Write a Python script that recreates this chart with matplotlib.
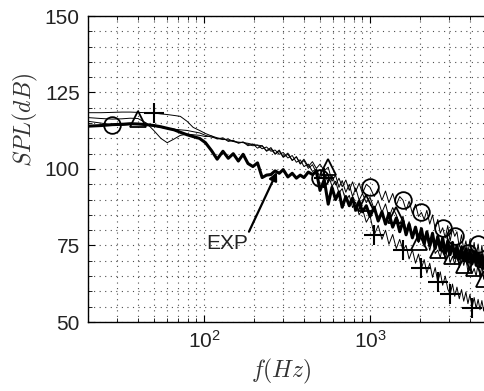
import matplotlib
matplotlib.use("Agg")
import matplotlib.pyplot as plt
from matplotlib.ticker import MultipleLocator, LogLocator, NullFormatter

plt.rcParams['font.family'] = ['Liberation Sans', 'DejaVu Sans']
plt.rcParams['mathtext.fontset'] = 'cm'

# frequency (Hz)
freq = [20, 24, 28, 32, 36, 40, 45, 50, 55, 60,
        66, 72, 79, 86, 94, 102, 111, 120, 130, 140,
        150, 161, 172, 184, 197, 210, 224, 238, 253, 268,
        284, 300, 320, 340, 360, 380, 400, 425, 450, 475,
        500, 530, 560, 590, 620, 650, 680, 715, 750, 785,
        820, 860, 900, 950, 1000, 1060, 1120, 1180, 1240, 1300,
        1370, 1440, 1510, 1580, 1650, 1720, 1800, 1880, 1960, 2040,
        2120, 2200, 2290, 2380, 2470, 2560, 2650, 2740, 2840, 2940,
        3040, 3140, 3240, 3340, 3450, 3560, 3670, 3780, 3890, 4000,
        4120, 4240, 4360, 4480, 4600, 4720, 4840, 4960, 5080]

# measured spectrum (thick line)
spl_exp = [114.0, 114.2, 114.5, 114.6, 114.8, 114.7, 114.5, 114.2, 113.8, 113.3,
           112.8, 112.0, 111.2, 110.6, 110.0, 108.6, 106.0, 103.2, 105.8, 103.5,
           105.0, 102.6, 104.8, 101.8, 100.8, 102.0, 97.2, 98.0, 98.2, 99.4,
           98.6, 99.8, 97.4, 98.6, 97.0, 98.0, 97.2, 99.0, 98.2, 99.2,
           93.0, 96.5, 88.5, 94.0, 90.0, 92.5, 87.5, 91.0, 88.0, 90.5,
           86.5, 89.5, 86.0, 88.0, 84.5, 87.5, 83.0, 86.0, 82.0, 85.5,
           81.0, 84.0, 79.5, 83.0, 78.5, 82.0, 77.5, 81.0, 76.5, 80.5,
           75.5, 79.5, 75.0, 79.0, 74.0, 78.0, 73.5, 77.5, 72.5, 76.5,
           72.0, 76.0, 71.0, 75.0, 70.5, 74.5, 70.0, 74.0, 69.5, 73.5,
           69.0, 73.0, 68.5, 72.5, 68.0, 72.0, 67.5, 71.5, 67.0]

# computed spectra (thin lines with markers)
spl_circle = [115.6, 115.0, 114.4, 114.3, 114.5, 114.6, 114.4, 114.0, 113.6, 113.2,
              113.0, 112.8, 112.6, 112.2, 111.8, 111.0, 110.4, 110.0, 109.6, 109.8,
              109.0, 108.6, 108.8, 108.0, 107.6, 107.8, 106.6, 107.2, 105.8, 106.2,
              104.8, 105.4, 103.6, 104.4, 102.2, 103.0, 100.8, 101.6, 99.2, 100.0,
              97.2, 98.6, 95.6, 97.8, 94.8, 97.0, 94.2, 96.4, 93.0, 95.8,
              92.6, 95.4, 92.0, 95.0, 94.0, 91.0, 93.6, 89.8, 92.8, 89.0,
              92.0, 88.2, 91.0, 89.8, 86.5, 89.5, 85.5, 88.5, 84.5, 85.8,
              83.5, 86.5, 82.0, 85.0, 80.5, 83.5, 79.0, 80.8, 77.5, 81.5,
              76.5, 80.5, 78.0, 79.5, 74.5, 78.5, 73.5, 76.5, 72.5, 77.0,
              72.0, 76.0, 71.0, 75.5, 70.5, 75.0, 70.0, 74.5, 69.5]

spl_triangle = [116.8, 116.5, 116.3, 116.4, 116.6, 116.5, 115.0, 112.5, 110.0, 108.6,
                109.8, 111.0, 111.4, 111.2, 111.0, 110.6, 110.8, 109.8, 110.2, 109.0,
                109.4, 108.4, 108.8, 107.6, 108.2, 106.8, 107.6, 105.8, 106.6, 104.8,
                105.8, 103.8, 104.8, 102.8, 104.0, 101.8, 103.2, 100.8, 102.4, 100.2,
                101.6, 99.4, 100.6, 96.0, 98.0, 94.0, 96.2, 92.4, 95.0, 91.0,
                93.8, 89.8, 92.0, 89.0, 90.8, 86.8, 89.6, 85.8, 88.6, 84.2,
                87.4, 85.0, 82.0, 84.6, 79.8, 82.8, 77.8, 80.6, 76.0, 79.0,
                74.6, 78.0, 73.4, 77.0, 72.4, 73.5, 71.0, 75.0, 70.2, 74.0,
                69.4, 71.5, 68.8, 72.6, 67.8, 71.8, 68.5, 71.0, 66.4, 70.4,
                65.8, 67.5, 65.0, 69.2, 64.4, 68.6, 64.0, 68.0, 63.6]

spl_plus = [118.4, 118.4, 118.5, 118.6, 118.6, 118.5, 118.4, 118.3, 118.0, 117.8,
            117.5, 117.2, 115.6, 113.6, 112.6, 111.6, 110.8, 110.2, 109.8, 109.4,
            109.0, 108.8, 108.6, 108.4, 108.0, 107.8, 107.6, 106.0, 107.0, 105.0,
            106.2, 104.0, 105.2, 102.8, 104.0, 101.6, 102.8, 100.2, 101.4, 98.8,
            99.8, 97.0, 98.2, 94.4, 96.0, 92.2, 93.6, 89.6, 91.4, 87.4,
            89.2, 85.0, 87.0, 82.6, 84.8, 78.4, 81.6, 77.0, 80.0, 75.4,
            78.6, 74.0, 77.0, 73.5, 75.0, 70.6, 73.6, 69.2, 72.2, 67.5,
            70.4, 66.0, 69.2, 64.6, 67.8, 63.0, 66.4, 62.0, 65.0, 60.8,
            59.0, 62.4, 58.4, 61.4, 57.6, 60.6, 56.8, 59.8, 56.0, 59.0,
            54.6, 58.0, 54.4, 57.4, 54.0, 57.0, 53.6, 56.6, 53.2]

# which samples carry a marker
mk_circle = [2, 40, 54, 63, 69, 77, 82, 88, 93]
mk_triangle = [5, 42, 53, 61, 68, 75, 81, 86, 91, 96]
mk_plus = [7, 41, 55, 63, 69, 75, 80, 90]

fig = plt.figure(figsize=(4.85, 3.91), dpi=100)
ax = fig.add_axes([88 / 485, 69 / 391, 448 / 485, 306 / 391])

ax.plot(freq, spl_exp, color='k', lw=2.2, zorder=4)
ax.plot(freq, spl_circle, color='k', lw=0.7, marker='o', markevery=mk_circle,
        ms=12, mfc='none', mew=1.3, zorder=3)
ax.plot(freq, spl_triangle, color='k', lw=0.7, marker='^', markevery=mk_triangle,
        ms=12, mfc='none', mew=1.3, zorder=3)
ax.plot(freq, spl_plus, color='k', lw=0.7, marker='+', markevery=mk_plus,
        ms=14, mew=1.5, zorder=3)

ax.set_xscale('log')
ax.set_xlim(20, 10000)
ax.set_ylim(50, 150)
ax.set_xticks([100, 1000])
ax.set_yticks([50, 75, 100, 125, 150])
ax.yaxis.set_minor_locator(MultipleLocator(5))
ax.xaxis.set_minor_locator(LogLocator(base=10, subs=range(2, 10)))
ax.xaxis.set_minor_formatter(NullFormatter())

ax.grid(True, which='both', ls=(0, (1, 4)), color='0.3', lw=0.8)
ax.tick_params(which='both', direction='in', top=True, right=True, labelsize=15,
               colors='k', labelcolor='#222222')
ax.tick_params(which='major', length=5, pad=6)
ax.tick_params(which='minor', length=3)
for s in ax.spines.values():
    s.set_linewidth(1.0)

fig.text(25 / 485, 1 - 120 / 391, r'$SPL(dB)$', fontsize=17, color='#333333',
         rotation=90, ha='center', va='center')
fig.text(281 / 485, 1 - 371 / 391, r'$f(Hz)$', fontsize=17, color='#333333',
         ha='center', va='center')

ax.annotate('EXP', xy=(275, 99), xytext=(137, 75.5), fontsize=15,
            ha='center', va='center', color='#222222',
            arrowprops=dict(arrowstyle='-|>', color='k', lw=1.6,
                            mutation_scale=12, relpos=(1, 1), shrinkA=0, shrinkB=0))

fig.savefig('out.png', dpi=100)
